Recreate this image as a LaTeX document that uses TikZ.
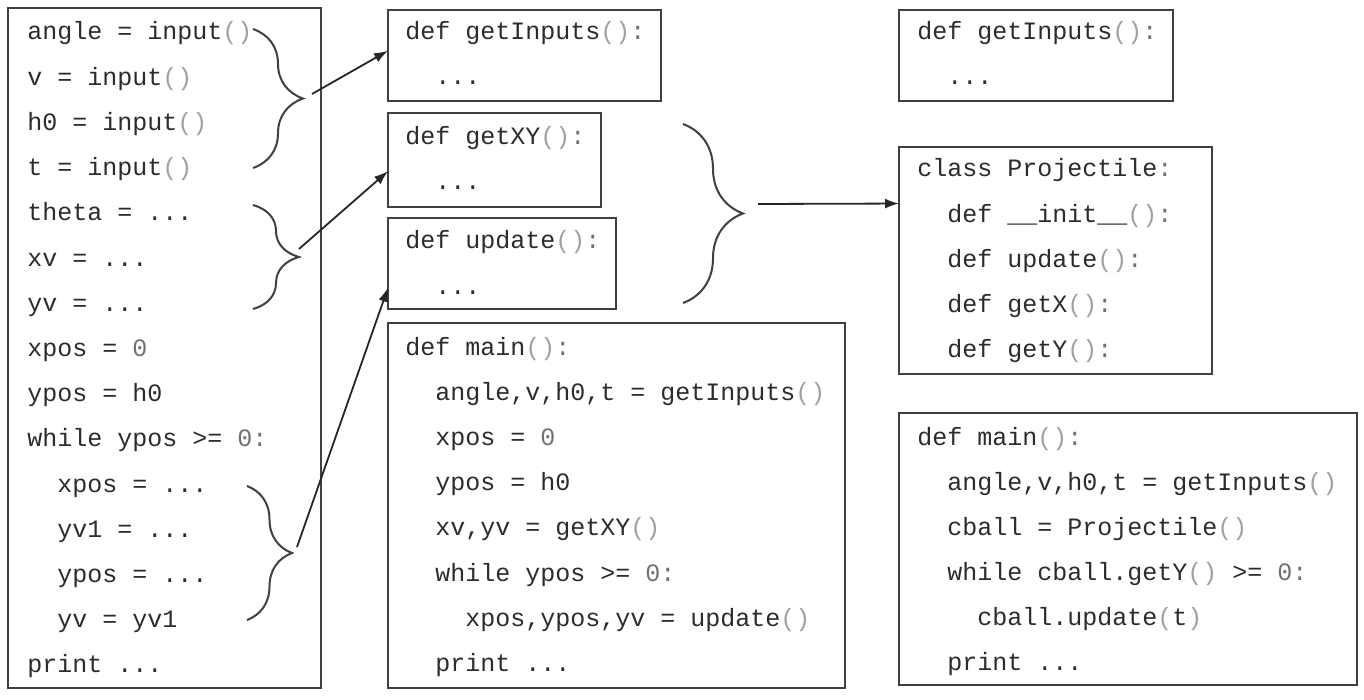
\documentclass[tikz,border=0pt]{standalone}
\usepackage{fontspec}
\setmonofont{Liberation Mono}
\usetikzlibrary{arrows.meta,decorations.pathreplacing}

\definecolor{codetext}{HTML}{2C2C2C}
\definecolor{codeparen}{HTML}{A0A0A8}
\definecolor{codenum}{HTML}{707078}
\definecolor{boxline}{HTML}{404040}

\newcommand\pp{\textcolor{codeparen}{()}}
\newcommand\lp{\textcolor{codeparen}{(}}
\newcommand\rp{\textcolor{codeparen}{)}}
\newcommand\zero{\textcolor{codenum}{0}}
\newcommand\co{\textcolor{codenum}{:}}
\newcommand\ind{\hphantom{xx}}
\newcommand\ddd{...}

\tikzset{
  codebox/.style={draw=boxline, line width=1pt, anchor=north west,
    inner sep=0pt, outer sep=0pt},
  code/.style={anchor=base west, inner sep=0pt, text=codetext,
    font=\ttfamily\fontsize{12.5}{15}\selectfont},
  brc/.style={decorate, decoration={brace, amplitude=#1},
    draw=boxline, line width=1pt},
  link/.style={-{Latex[length=7pt,width=5pt]}, line width=0.9pt,
    draw=black!85},
}

\begin{document}
\begin{tikzpicture}[x=0.5pt,y=-0.5pt]
  \useasboundingbox (0,0) rectangle (1364,700);

  % the flat program
  \node[codebox, minimum width=156.5pt, minimum height=340pt] (flat) at (8,8) {};
  \foreach \t [count=\i] in {angle = input\pp, v = input\pp, h0 = input\pp,
      t = input\pp, theta = \ddd, xv = \ddd, yv = \ddd, xpos = \zero,
      ypos = h0, while ypos >= \zero\co, \ind xpos = \ddd, \ind yv1 = \ddd,
      \ind ypos = \ddd, \ind yv = yv1, print \ddd}
    \node[code] (flat-\i) at (27,{40+(\i-1)*45.2}) {\t};

  \draw[brc=25pt] (253,29) -- (253,168);
  \draw[brc=23pt] (253,205) -- (253,309);
  \draw[brc=22.5pt] (247,486) -- (247,620);
  \coordinate (in-tip) at (312,94);
  \coordinate (xy-tip) at (299,249);
  \coordinate (up-tip) at (297,547);

  % the functions
  \node[codebox, minimum width=136.5pt, minimum height=45.5pt] (gin) at (388,10) {};
  \node[code] (gin-1) at (405,40) {def getInputs\pp\co};
  \node[code] (gin-2) at (405,85) {\ind\ddd};

  \node[codebox, minimum width=106.5pt, minimum height=47pt] (gxy) at (388,113) {};
  \node[code] (gxy-1) at (405,145) {def getXY\pp\co};
  \node[code] (gxy-2) at (405,190) {\ind\ddd};

  \node[codebox, minimum width=114pt, minimum height=45.5pt] (upd) at (388,218) {};
  \node[code] (upd-1) at (405,249) {def update\pp\co};
  \node[code] (upd-2) at (405,294) {\ind\ddd};

  \node[codebox, minimum width=228.5pt, minimum height=182.5pt] (fmain) at (388,323) {};
  \foreach \t [count=\i] in {def main\pp\co, {\ind angle,v,h0,t = getInputs\pp},
      \ind xpos = \zero, \ind ypos = h0, {\ind xv,yv = getXY\pp},
      \ind while ypos >= \zero\co, {\ind\ind xpos,ypos,yv = update\pp},
      \ind print \ddd}
    \node[code] (fmain-\i) at (405,{355+(\i-1)*45.2}) {\t};

  \draw[brc=30pt] (683,124) -- (683,303);
  \coordinate (fn-tip) at (758,204);

  % the class
  \node[codebox, minimum width=137pt, minimum height=45.5pt] (cin) at (899,10) {};
  \node[code] (cin-1) at (917,40) {def getInputs\pp\co};
  \node[code] (cin-2) at (917,85) {\ind\ddd};

  \node[codebox, minimum width=156.5pt, minimum height=113.5pt] (proj) at (899,147) {};
  \foreach \t [count=\i] in {class Projectile\co, \ind def \_\_init\_\_\pp\co,
      \ind def update\pp\co, \ind def getX\pp\co, \ind def getY\pp\co}
    \node[code] (proj-\i) at (917,{177+(\i-1)*45}) {\t};

  \node[codebox, minimum width=229pt, minimum height=136pt] (cmain) at (899,413) {};
  \foreach \t [count=\i] in {def main\pp\co, {\ind angle,v,h0,t = getInputs\pp},
      \ind cball = Projectile\pp, \ind while cball.getY\pp{} >= \zero\co,
      \ind\ind cball.update\lp t\rp, \ind print \ddd}
    \node[code] (cmain-\i) at (917,{445+(\i-1)*45}) {\t};

  % arrows
  \draw[link] (in-tip) -- (gin.178);
  \draw[link] (xy-tip) -- (gxy.186);
  \draw[link] (up-tip) -- (upd.192);
  \draw[link] (fn-tip) -- (proj.160);
\end{tikzpicture}
\end{document}
